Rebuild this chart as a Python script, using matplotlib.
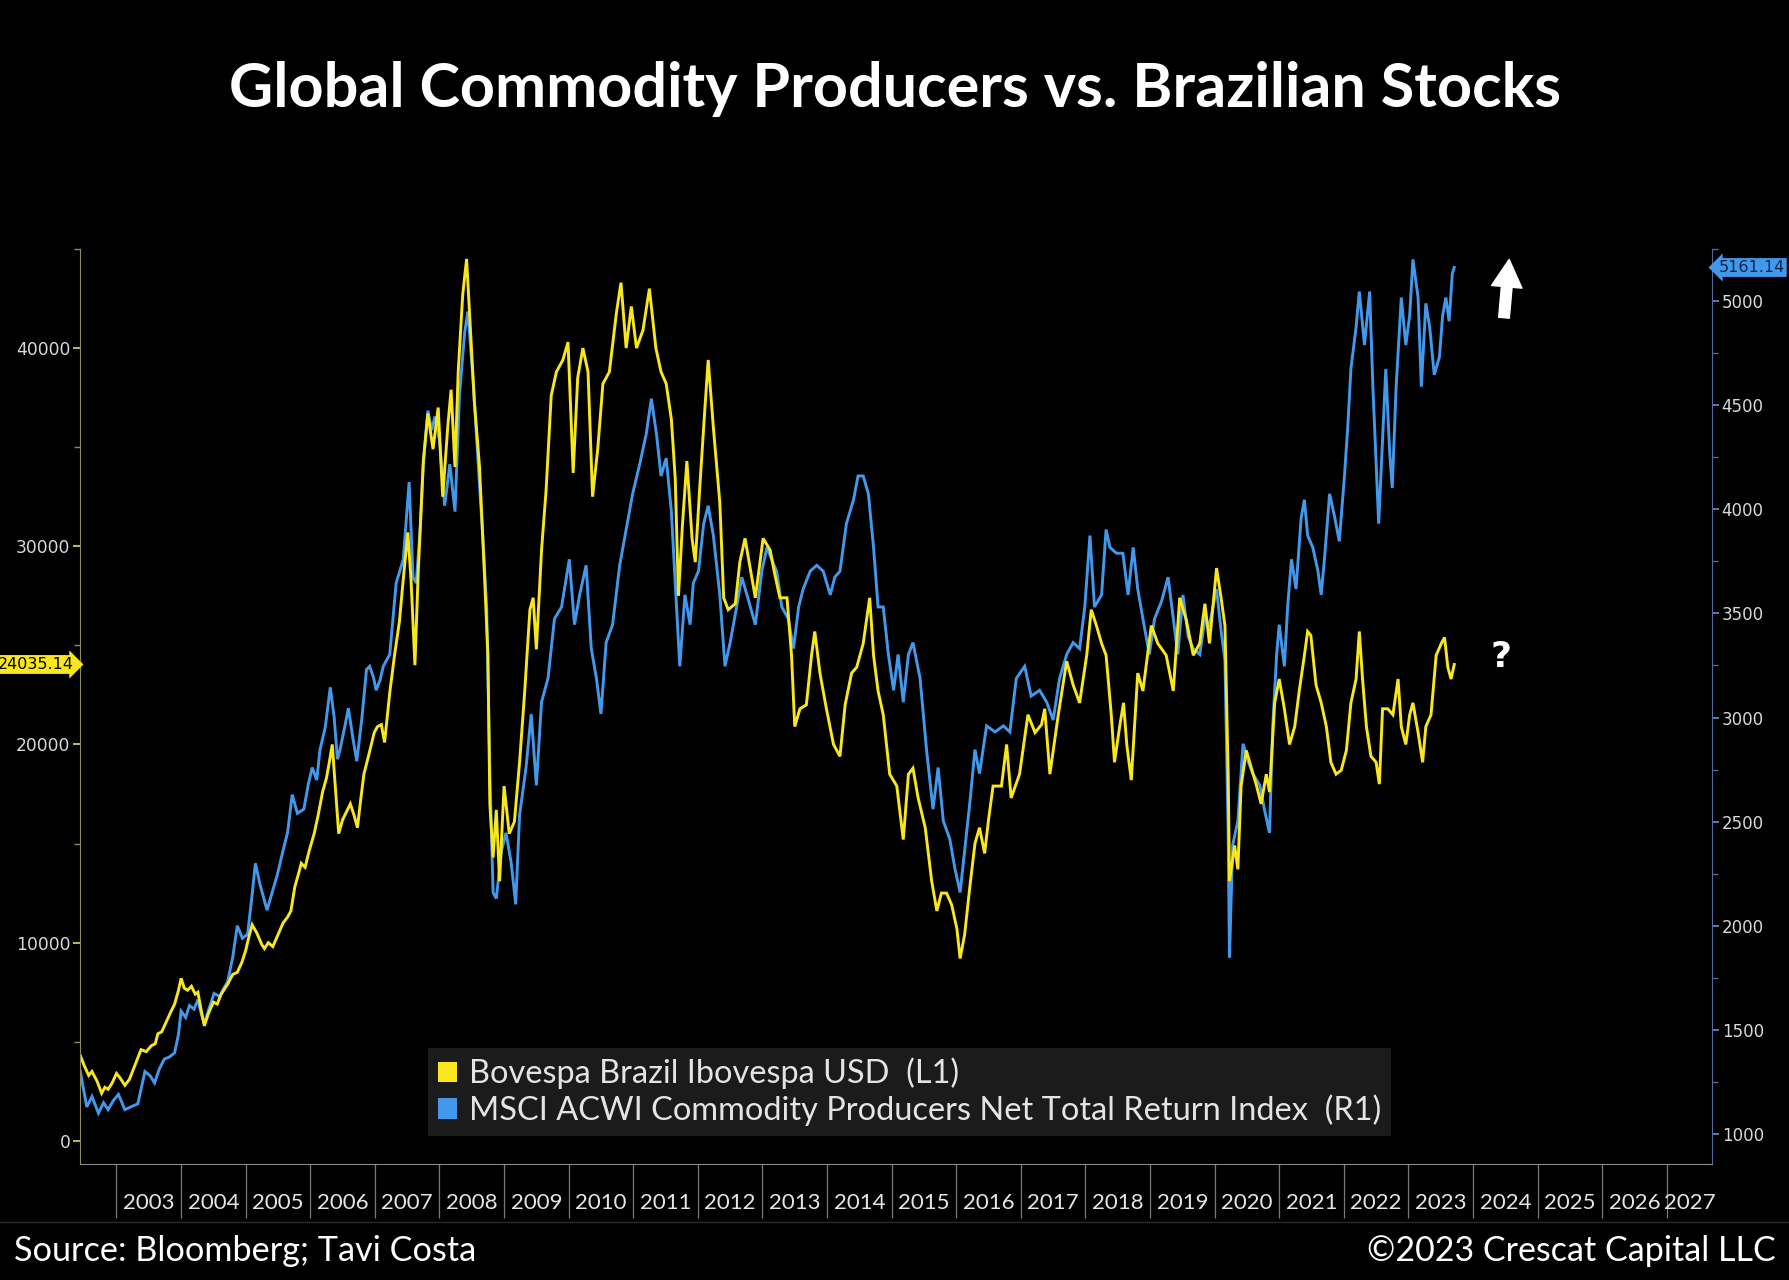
import numpy as np
import matplotlib
matplotlib.use("Agg")
from matplotlib import pyplot as plt
from matplotlib.patches import Patch
from matplotlib.lines import Line2D
import matplotlib.transforms as mtransforms

# Bovespa Brazil Ibovespa USD (left axis)
bov_t = [2002.44, 2002.50, 2002.57, 2002.62, 2002.70, 2002.77, 2002.82, 2002.87, 2002.93,
         2003.00, 2003.05, 2003.13, 2003.20, 2003.26, 2003.32, 2003.38, 2003.46, 2003.54, 2003.60,
         2003.64, 2003.70, 2003.77, 2003.84, 2003.90, 2003.96,
         2004.00, 2004.05, 2004.10, 2004.16, 2004.22, 2004.26, 2004.31, 2004.36, 2004.42, 2004.50,
         2004.56, 2004.62, 2004.72, 2004.80, 2004.87, 2004.94,
         2005.00, 2005.05, 2005.10, 2005.17, 2005.25, 2005.29, 2005.35, 2005.42, 2005.50, 2005.58,
         2005.65, 2005.70, 2005.76, 2005.82, 2005.86, 2005.92, 2005.98,
         2006.06, 2006.12, 2006.19, 2006.25, 2006.30, 2006.34, 2006.38, 2006.44, 2006.50, 2006.56,
         2006.62, 2006.68, 2006.73, 2006.78, 2006.83, 2006.90, 2006.99,
         2007.04, 2007.10, 2007.15, 2007.23, 2007.30, 2007.38, 2007.43, 2007.51, 2007.56, 2007.62,
         2007.67, 2007.75, 2007.82, 2007.90, 2007.98,
         2008.05, 2008.13, 2008.18, 2008.24, 2008.29, 2008.36, 2008.42, 2008.47, 2008.54, 2008.62,
         2008.70, 2008.75, 2008.78, 2008.83, 2008.88, 2008.93,
         2009.00, 2009.08, 2009.16, 2009.24, 2009.32, 2009.40, 2009.45, 2009.50, 2009.58, 2009.65,
         2009.73, 2009.81, 2009.91, 2009.99,
         2010.07, 2010.14, 2010.22, 2010.30, 2010.37, 2010.45, 2010.53, 2010.63, 2010.74, 2010.81,
         2010.89, 2010.97,
         2011.05, 2011.15, 2011.25, 2011.35, 2011.43, 2011.51, 2011.59, 2011.65, 2011.70, 2011.76,
         2011.83, 2011.91, 2011.96,
         2012.03, 2012.11, 2012.16, 2012.24, 2012.34, 2012.40, 2012.47, 2012.58, 2012.65, 2012.73,
         2012.81, 2012.89,
         2013.01, 2013.12, 2013.19, 2013.27, 2013.38, 2013.45, 2013.50, 2013.58, 2013.68, 2013.76,
         2013.81, 2013.89, 2013.99,
         2014.10, 2014.20, 2014.28, 2014.38, 2014.46, 2014.56, 2014.66, 2014.72, 2014.79, 2014.87,
         2014.97,
         2015.08, 2015.18, 2015.26, 2015.33, 2015.41, 2015.52, 2015.62, 2015.70, 2015.77, 2015.85,
         2015.93,
         2016.01, 2016.06, 2016.13, 2016.21, 2016.29, 2016.36, 2016.44, 2016.50, 2016.57, 2016.70,
         2016.78, 2016.85, 2016.98,
         2017.11, 2017.22, 2017.32, 2017.37, 2017.45, 2017.58, 2017.71, 2017.81, 2017.91,
         2018.02, 2018.09, 2018.17, 2018.25, 2018.32, 2018.40, 2018.45, 2018.53, 2018.59, 2018.64,
         2018.71, 2018.81, 2018.89,
         2019.02, 2019.12, 2019.25, 2019.36, 2019.46, 2019.56, 2019.67, 2019.77, 2019.85, 2019.92,
         2020.03, 2020.10, 2020.16, 2020.21, 2020.23, 2020.31, 2020.36, 2020.41, 2020.49, 2020.57,
         2020.65, 2020.72, 2020.80, 2020.85, 2020.93,
         2021.00, 2021.08, 2021.16, 2021.24, 2021.31, 2021.39, 2021.44, 2021.49, 2021.57, 2021.65,
         2021.73, 2021.80, 2021.88, 2021.96,
         2022.04, 2022.11, 2022.19, 2022.24, 2022.29, 2022.35, 2022.42, 2022.50, 2022.55, 2022.60,
         2022.68, 2022.76, 2022.84, 2022.89, 2022.96,
         2023.02, 2023.07, 2023.15, 2023.22, 2023.27, 2023.35, 2023.43, 2023.51, 2023.56, 2023.61,
         2023.66, 2023.71]
bov_v = [4300, 3800, 3300, 3500, 3000, 2400, 2700, 2600, 2900,
         3400, 3200, 2800, 3100, 3600, 4100, 4600, 4500, 4800, 4900,
         5400, 5500, 6000, 6500, 6900, 7600,
         8200, 7700, 7600, 7800, 7400, 7500, 6600, 5800, 6400, 7000,
         6900, 7400, 7900, 8400, 8500, 9000,
         9600, 10300, 10900, 10500, 9900, 9700, 10000, 9800, 10400, 11000,
         11300, 11600, 12800, 13500, 14000, 13800, 14600,
         15500, 16400, 17600, 18300, 19200, 20000, 18200, 15500, 16200, 16600,
         17000, 16400, 15800, 17200, 18500, 19400, 20600,
         20900, 21000, 20100, 22600, 24400, 26200, 28000, 30700, 28300, 24000,
         28600, 34300, 36700, 34900, 37000,
         32500, 36100, 37900, 34000, 38800, 42700, 44500, 41500, 37300, 34000,
         28300, 24500, 17000, 14300, 16700, 13100,
         17900, 15500, 16100, 19100, 22700, 26800, 27400, 24800, 29800, 32800,
         37600, 38800, 39400, 40300,
         33700, 38500, 40000, 38800, 32500, 34900, 38200, 38800, 41800, 43300,
         40000, 42100,
         40000, 40900, 43000, 40000, 38800, 38200, 36400, 33400, 27500, 31000,
         34300, 30400, 29200,
         33000, 37000, 39400, 36000, 32200, 27400, 26800, 27100, 29200, 30400,
         28900, 27400,
         30400, 29800, 28600, 27400, 27400, 24500, 20900, 21800, 22000, 24500,
         25700, 23600, 21800,
         20000, 19400, 22000, 23600, 23900, 25100, 27400, 24500, 22700, 21500,
         18500,
         17900, 15200, 18500, 18800, 17300, 15800, 13100, 11600, 12500, 12500,
         11900,
         10700, 9200, 10400, 12800, 15000, 15800, 14500, 16200, 17900, 17900,
         20000, 17300, 18500,
         21500, 20600, 21000, 21800, 18500, 21500, 24200, 23000, 22100,
         24500, 26800, 26000, 25100, 24500, 21500, 19100, 20900, 22100, 20000,
         18200, 23600, 22700,
         26000, 25100, 24500, 22700, 27400, 26300, 24500, 25100, 27100, 25100,
         28900, 27400, 26000, 18500, 13100, 14900, 13700, 17900, 19700, 18800,
         17900, 17000, 18500, 17600, 22100,
         23300, 21800, 20000, 20900, 22700, 24500, 25700, 25500, 23000, 22100,
         20900, 19100, 18500, 18700,
         19700, 22100, 23300, 25700, 23300, 20900, 19400, 19100, 18000, 21800,
         21800, 21500, 23300, 20900, 20000,
         21500, 22100, 20600, 19100, 20900, 21500, 24500, 25100, 25400, 23900,
         23300, 24035.14]

# MSCI ACWI Commodity Producers Net Total Return Index (right axis)
msci_t = [2002.44, 2002.54, 2002.62, 2002.72, 2002.80, 2002.87, 2002.95,
          2003.03, 2003.13, 2003.22, 2003.33, 2003.44, 2003.52, 2003.59, 2003.66, 2003.74, 2003.82,
          2003.90, 2003.96,
          2004.00, 2004.07, 2004.13, 2004.20, 2004.26, 2004.31, 2004.36, 2004.43, 2004.51, 2004.60,
          2004.66, 2004.72, 2004.80, 2004.87, 2004.95,
          2005.03, 2005.10, 2005.15, 2005.22, 2005.29, 2005.33, 2005.40, 2005.49, 2005.57, 2005.65,
          2005.72, 2005.80, 2005.90, 2005.97,
          2006.03, 2006.10, 2006.15, 2006.23, 2006.31, 2006.37, 2006.42, 2006.46, 2006.53, 2006.59,
          2006.66, 2006.72, 2006.80, 2006.87, 2006.92, 2006.98,
          2007.02, 2007.08, 2007.13, 2007.23, 2007.33, 2007.44, 2007.53, 2007.59, 2007.64, 2007.70,
          2007.75, 2007.82, 2007.88, 2007.93,
          2008.00, 2008.08, 2008.16, 2008.24, 2008.31, 2008.39, 2008.44, 2008.52, 2008.60, 2008.67,
          2008.73, 2008.78, 2008.83, 2008.88, 2008.96,
          2009.03, 2009.11, 2009.18, 2009.24, 2009.34, 2009.42, 2009.50, 2009.58, 2009.68, 2009.78,
          2009.89,
          2010.01, 2010.09, 2010.17, 2010.27, 2010.35, 2010.43, 2010.50, 2010.58, 2010.68, 2010.79,
          2010.89, 2010.99,
          2011.10, 2011.20, 2011.28, 2011.36, 2011.43, 2011.51, 2011.59, 2011.65, 2011.72, 2011.80,
          2011.88, 2011.93,
          2012.01, 2012.09, 2012.16, 2012.24, 2012.34, 2012.42, 2012.50, 2012.60, 2012.68, 2012.76,
          2012.89, 2012.99,
          2013.07, 2013.14, 2013.22, 2013.30, 2013.40, 2013.48, 2013.56, 2013.63, 2013.74, 2013.84,
          2013.94,
          2014.05, 2014.12, 2014.20, 2014.30, 2014.41, 2014.48, 2014.56, 2014.64, 2014.72, 2014.79,
          2014.87, 2014.95,
          2015.03, 2015.10, 2015.18, 2015.26, 2015.33, 2015.44, 2015.54, 2015.64, 2015.72, 2015.80,
          2015.90, 2015.98,
          2016.06, 2016.13, 2016.21, 2016.29, 2016.36, 2016.47, 2016.60, 2016.73, 2016.83, 2016.93,
          2017.06, 2017.16, 2017.29, 2017.40, 2017.50, 2017.60, 2017.71, 2017.81, 2017.91, 2017.99,
          2018.07, 2018.14, 2018.25, 2018.32, 2018.38, 2018.48, 2018.58, 2018.66, 2018.74, 2018.81,
          2018.89, 2018.99,
          2019.07, 2019.18, 2019.28, 2019.36, 2019.43, 2019.51, 2019.59, 2019.67, 2019.77, 2019.85,
          2019.92,
          2020.03, 2020.10, 2020.16, 2020.21, 2020.23, 2020.28, 2020.36, 2020.44, 2020.52, 2020.59,
          2020.70, 2020.77, 2020.85, 2020.90, 2020.96,
          2021.00, 2021.08, 2021.13, 2021.19, 2021.26, 2021.34, 2021.39, 2021.44, 2021.52, 2021.60,
          2021.65, 2021.70, 2021.78, 2021.86, 2021.93,
          2022.01, 2022.06, 2022.11, 2022.19, 2022.24, 2022.32, 2022.40, 2022.45, 2022.50, 2022.54,
          2022.60, 2022.65, 2022.71, 2022.75, 2022.81, 2022.89, 2022.96,
          2023.02, 2023.07, 2023.15, 2023.20, 2023.27, 2023.33, 2023.40, 2023.48, 2023.53, 2023.58,
          2023.63, 2023.68, 2023.71]
msci_v = [1300, 1130, 1180, 1100, 1150, 1117, 1160,
          1190, 1117, 1130, 1145, 1300, 1280, 1245, 1310, 1360, 1370,
          1390, 1480,
          1590, 1560, 1617, 1600, 1645, 1580, 1530, 1600, 1675, 1660,
          1700, 1730, 1850, 2000, 1940,
          1960, 2150, 2300, 2200, 2120, 2075, 2150, 2245, 2350, 2450,
          2630, 2540, 2560, 2680,
          2760, 2700, 2845, 2950, 3145, 3000, 2800, 2845, 2950, 3045,
          2900, 2790, 3000, 3230, 3246, 3190,
          3131, 3180, 3246, 3303, 3646, 3760, 4131, 3674, 3646, 3900,
          4217, 4474, 4380, 4446,
          4331, 4017, 4217, 3989, 4550, 4850, 4950, 4620, 4217, 3874,
          3531, 2731, 2160, 2131, 2360,
          2446, 2303, 2103, 2531, 2760, 3017, 2674, 3074, 3188, 3474,
          3531,
          3760, 3446, 3589, 3731, 3331, 3188, 3017, 3360, 3446, 3731,
          3903, 4074,
          4217, 4360, 4531, 4360, 4160, 4246, 3989, 3646, 3246, 3589,
          3446, 3646,
          3703, 3931, 4017, 3874, 3589, 3246, 3360, 3531, 3674, 3589,
          3446, 3703,
          3817, 3760, 3703, 3531, 3474, 3331, 3531, 3617, 3703, 3731,
          3703,
          3589, 3674, 3703, 3931, 4046, 4160, 4160, 4074, 3817, 3531,
          3531, 3303,
          3131, 3303, 3074, 3303, 3360, 3188, 2846, 2560, 2760, 2503,
          2417, 2274,
          2160, 2360, 2589, 2846, 2731, 2960, 2931, 2960, 2931, 3188,
          3246, 3103, 3131, 3074, 2988, 3188, 3303, 3360, 3331, 3531,
          3874, 3531, 3589, 3903, 3817, 3789, 3789, 3589, 3817, 3617,
          3474, 3303,
          3474, 3560, 3674, 3474, 3303, 3589, 3389, 3331, 3303, 3474,
          3446,
          3617, 3417, 3274, 2446, 1846, 2389, 2503, 2874, 2789, 2731,
          2674, 2560, 2446, 2960, 3300,
          3446, 3246, 3531, 3760, 3617, 3960, 4046, 3874, 3817, 3703,
          3589, 3760, 4074, 3960, 3846,
          4160, 4389, 4674, 4874, 5046, 4789, 5046, 4589, 4217, 3931,
          4331, 4674, 4274, 4103, 4589, 5017, 4789,
          4931, 5200, 5017, 4589, 4989, 4874, 4646, 4731, 4931, 5017,
          4903, 5131, 5161.14]

years = list(range(2003, 2028))
left_ticks = [0, 10000, 20000, 30000, 40000]
right_ticks = [1000, 1500, 2000, 2500, 3000, 3500, 4000, 4500, 5000]

title = "Global Commodity Producers vs. Brazilian Stocks"
bov_label = "Bovespa Brazil Ibovespa USD  (L1)"
msci_label = "MSCI ACWI Commodity Producers Net Total Return Index  (R1)"
source_txt = "Source: Bloomberg; Tavi Costa"
copy_txt = "\u00a92023 Crescat Capital LLC"

YELLOW = "#f8e71c"
BLUE = "#4299ec"

W, H = 1790, 1280
fig = plt.figure(figsize=(W / 100, H / 100), dpi=100, facecolor="black")

ax = fig.add_axes([80 / W, 1 - 1164 / H, (1712 - 80) / W, (1164 - 249) / H])
ax2 = ax.twinx()
ax.set_zorder(ax2.get_zorder() + 1)
ax.patch.set_visible(False)
ax2.set_facecolor("black")

ax2.plot(msci_t, msci_v, color=BLUE, lw=2.1, solid_joinstyle="miter")
ax.plot(bov_t, bov_v, color=YELLOW, lw=2.1, solid_joinstyle="miter")

xmin, xmax = 2002.435, 2027.70
ax.set_xlim(xmin, xmax)
ax.set_ylim(-1170, 44500)
ax2.set_ylim(856, 5208)

# spines
for s in ["top", "right"]:
    ax.spines[s].set_visible(False)
for s in ["top", "left", "bottom"]:
    ax2.spines[s].set_visible(False)
ax.spines["left"].set_color("#8e8a5e")
ax.spines["bottom"].set_color("#8a8a8a")
ax2.spines["right"].set_color("#4d6d9c")

# left axis ticks
ax.set_yticks(left_ticks)
ax.set_yticklabels([str(v) for v in left_ticks])
ax.set_yticks([v + 5000 for v in left_ticks], minor=True)
ax.tick_params(axis="y", which="major", length=5, width=1.3, color="#d2c95a",
               labelcolor="#d8d8d8", labelsize=12.3, pad=2)
ax.tick_params(axis="y", which="minor", length=4, width=1.0, color="#8e8a5e")

# right axis ticks
ax2.set_yticks(right_ticks)
ax2.set_yticklabels([str(v) for v in right_ticks])
ax2.set_yticks([v + 250 for v in right_ticks], minor=True)
ax2.tick_params(axis="y", which="major", length=5, width=1.3, color="#5d87c8",
                labelcolor="#d8d8d8", labelsize=12, pad=2)
ax2.tick_params(axis="y", which="minor", length=4, width=1.0, color="#4d6d9c")

# x axis: separators at year starts, labels centred in each year
centers = [min(y + 0.5, (y + xmax) / 2) for y in years]
ax.set_xticks(years)
ax.set_xticklabels([])
ax.set_xticks(centers, minor=True)
ax.set_xticklabels([str(y) for y in years], minor=True, family="Lato")
ax.tick_params(axis="x", which="major", length=39, width=0.9, color="#7a7a7a")
ax.tick_params(axis="x", which="minor", length=0, pad=21, labelsize=16,
               labelcolor="#e6e6e6")

# last value tags
tl = mtransforms.blended_transform_factory(ax.transAxes, ax.transData)
ax.text(-0.004, bov_v[-1], f"{bov_v[-1]:.2f}", transform=tl, ha="right", va="center",
        fontsize=11.5, color="black", clip_on=False, zorder=10,
        bbox=dict(boxstyle="rarrow,pad=0.12", fc=YELLOW, ec="none"))
tr = mtransforms.blended_transform_factory(ax2.transAxes, ax2.transData)
ax2.text(1.004, msci_v[-1], f"{msci_v[-1]:.2f}", transform=tr, ha="left", va="center",
         fontsize=11.5, color="#0b2347", clip_on=False, zorder=10,
         bbox=dict(boxstyle="larrow,pad=0.12", fc=BLUE, ec="none"))

# legend
leg = ax.legend(handles=[Patch(facecolor=YELLOW, label=bov_label),
                         Patch(facecolor=BLUE, label=msci_label)],
                loc="upper left", bbox_to_anchor=(428 / W, 1 - 1048 / H),
                bbox_transform=fig.transFigure, frameon=True, fancybox=False,
                facecolor="#1b1b1b", edgecolor="none", framealpha=1,
                prop=dict(family="Lato", size=23.4), labelcolor="#e4e4e4",
                handlelength=0.6, handleheight=0.6, handletextpad=0.35,
                borderpad=0.3, labelspacing=0.15, borderaxespad=0)

# annotations
ax2.annotate("", xy=(2024.56, 5200), xytext=(2024.48, 4920),
             arrowprops=dict(arrowstyle="simple,head_width=1.0,head_length=0.9,tail_width=0.35",
                             color="white", mutation_scale=22, shrinkA=0, shrinkB=0))
ax.text(2024.43, 24400, "?", fontsize=26, fontweight="bold", color="white",
        ha="center", va="center")

# title and footer
fig.text(0.5, 1 - 89 / H, title, ha="center", va="center", fontsize=44,
         fontweight="bold", color="white", family="Lato")
fig.text(14 / W, 1 - 1251 / H, source_txt, ha="left", va="center", fontsize=24.7,
         color="white", family="Lato")
fig.text(1776 / W, 1 - 1251 / H, copy_txt, ha="right", va="center", fontsize=24.5,
         color="white", family="Lato")
fig.add_artist(Line2D([0, 1], [1 - 1222 / H] * 2, transform=fig.transFigure,
                      color="#2b2b2b", lw=1))

fig.savefig("out.png", dpi=100, facecolor="black")
